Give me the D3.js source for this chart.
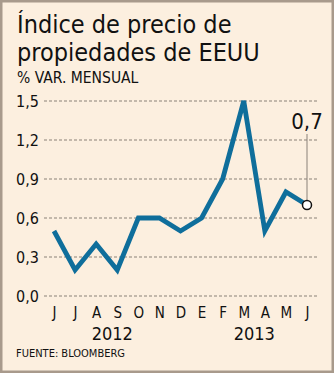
<!DOCTYPE html>
<html><head><meta charset="utf-8">
<script src="https://cdn.jsdelivr.net/npm/d3@7"></script>
<style>html,body{margin:0;padding:0;background:#fff}svg{display:block}</style>
</head><body>
<script>
const months = ["J","J","A","S","O","N","D","E","F","M","A","M","J"];
const values = [0.5,0.2,0.4,0.2,0.6,0.6,0.5,0.6,0.9,1.5,0.5,0.8,0.7];
const yTicks = [0,0.3,0.6,0.9,1.2,1.5];
const years = [{label:"2012", from:0, to:6},{label:"2013", from:7, to:12}];

const W=334,H=373;
const svg=d3.select("body").append("svg").attr("width",W).attr("height",H);
svg.append("rect").attr("x",1.25).attr("y",1.25).attr("width",W-2.5).attr("height",H-2.5)
  .attr("fill","#fcefdf").attr("stroke","#a89a8c").attr("stroke-width",2.5);

const font="'DejaVu Sans Condensed','DejaVu Sans',sans-serif";
const wide="'DejaVu Sans',sans-serif";
svg.append("text").attr("x",17).attr("y",33).attr("font-family",font).attr("font-size",25).attr("fill","#111").text("Índice de precio de");
svg.append("text").attr("x",17).attr("y",61).attr("font-family",font).attr("font-size",25).attr("fill","#111").text("propiedades de EEUU");
svg.append("text").attr("x",17).attr("y",83).attr("font-family",font).attr("font-size",15.5).attr("fill","#111").text("% VAR. MENSUAL");

const x=d3.scalePoint().domain(d3.range(months.length)).range([54,307]);
const y=d3.scaleLinear().domain([0,1.5]).range([296,101]);
const fmt=d=>d3.format(".1f")(d).replace(".",",");

const yAxis=d3.axisLeft(y).tickValues(yTicks).tickSize(0).tickFormat(fmt);
const yg=svg.append("g").attr("transform","translate(40,0)").call(yAxis);
yg.select(".domain").remove();
yg.selectAll("text").attr("font-family",font).attr("font-size",16).attr("fill","#111").attr("x",-1).attr("dy","0.35em");

svg.append("g").selectAll("line").data(yTicks).join("line")
  .attr("x1",44).attr("x2",318).attr("y1",d=>y(d)).attr("y2",d=>y(d))
  .attr("stroke","#8a8178").attr("stroke-width",1.2).attr("stroke-dasharray","3,2");

const xAxis=d3.axisBottom(x).tickSize(0).tickFormat(i=>months[i]);
const xg=svg.append("g").attr("transform","translate(0,304)").call(xAxis);
xg.select(".domain").remove();
xg.selectAll("text").attr("font-family",font).attr("font-size",15).attr("fill","#111").attr("dy","0.71em");

svg.append("g").selectAll("text").data(years).join("text")
  .attr("x",d=>(x(d.from)+x(d.to))/2+ (d.label==="2012"?-5:0)).attr("y",340)
  .attr("text-anchor","middle").attr("font-family",font).attr("font-size",18).attr("fill","#111").text(d=>d.label);

svg.append("text").attr("x",16).attr("y",357).attr("font-family",font).attr("font-size",11).attr("fill","#111").text("FUENTE: BLOOMBERG");

const line=d3.line().x((d,i)=>x(i)).y(d=>y(d));
svg.append("path").datum(values).attr("d",line).attr("fill","none")
  .attr("stroke","#0f6e9b").attr("stroke-width",4.8).attr("stroke-linejoin","miter");

const li=values.length-1;
svg.append("line").attr("x1",x(li)).attr("x2",x(li)).attr("y1",y(values[li])).attr("y2",134)
  .attr("stroke","#8a8178").attr("stroke-width",1);
svg.append("circle").attr("cx",x(li)).attr("cy",y(values[li])).attr("r",4.5)
  .attr("fill","#fff").attr("stroke","#111").attr("stroke-width",1.5);
svg.append("text").attr("x",x(li)).attr("y",129).attr("text-anchor","middle")
  .attr("font-family",font).attr("font-size",22).attr("fill","#111").text(fmt(values[li]));
</script>
</body></html>
